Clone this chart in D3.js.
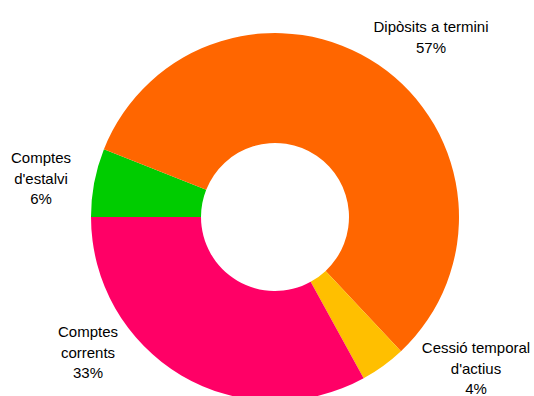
<!DOCTYPE html>
<html>
<head>
<meta charset="utf-8">
<script src="https://cdn.jsdelivr.net/npm/d3@7"></script>
<style>
  html, body { margin: 0; padding: 0; background: #fff; }
  svg { display: block; }
  text { font-family: "Liberation Sans", Arial, sans-serif; font-size: 15px; fill: #000; }
</style>
</head>
<body>
<svg id="chart" width="534" height="396"></svg>
<script>
// Segments in drawing order, clockwise from 9 o'clock
const categories = ["Comptes d'estalvi", "Dipòsits a termini", "Cessió temporal d'actius", "Comptes corrents"];
const shares = [6, 57, 4, 33];
const labelLines = [["Comptes", "d'estalvi"], ["Dipòsits a termini"], ["Cessió temporal", "d'actius"], ["Comptes", "corrents"]];
const colors = ["#00CC00", "#FF6600", "#FFBF00", "#FF0066"];

// Label anchor points (centre of first text line baseline)
const labelAnchors = [[41, 163], [431, 32], [476, 353], [88, 337]];

const width = 534, height = 396;
const cx = 275, cy = 217;
const outerR = 184, innerR = 74;
const lineH = 20.5;

const data = categories.map((c, i) => ({ name: c, value: shares[i], lines: labelLines[i], color: colors[i], anchor: labelAnchors[i] }));

const pie = d3.pie()
  .value(d => d.value)
  .sort(null)
  .startAngle(-Math.PI / 2)
  .endAngle(3 * Math.PI / 2);

const arc = d3.arc().innerRadius(innerR).outerRadius(outerR);

const svg = d3.select("#chart");
const g = svg.append("g").attr("transform", `translate(${cx},${cy})`);

g.selectAll("path")
  .data(pie(data))
  .join("path")
  .attr("d", arc)
  .attr("fill", d => d.data.color);

const labels = svg.selectAll("text.lbl")
  .data(data)
  .join("text")
  .attr("class", "lbl")
  .attr("text-anchor", "middle")
  .attr("transform", d => `translate(${d.anchor[0]},${d.anchor[1]})`);

labels.each(function (d) {
  const t = d3.select(this);
  const lines = d.lines.concat([d.value + "%"]);
  lines.forEach((ln, i) => {
    t.append("tspan").attr("x", 0).attr("y", i * lineH).text(ln);
  });
});
</script>
</body>
</html>
